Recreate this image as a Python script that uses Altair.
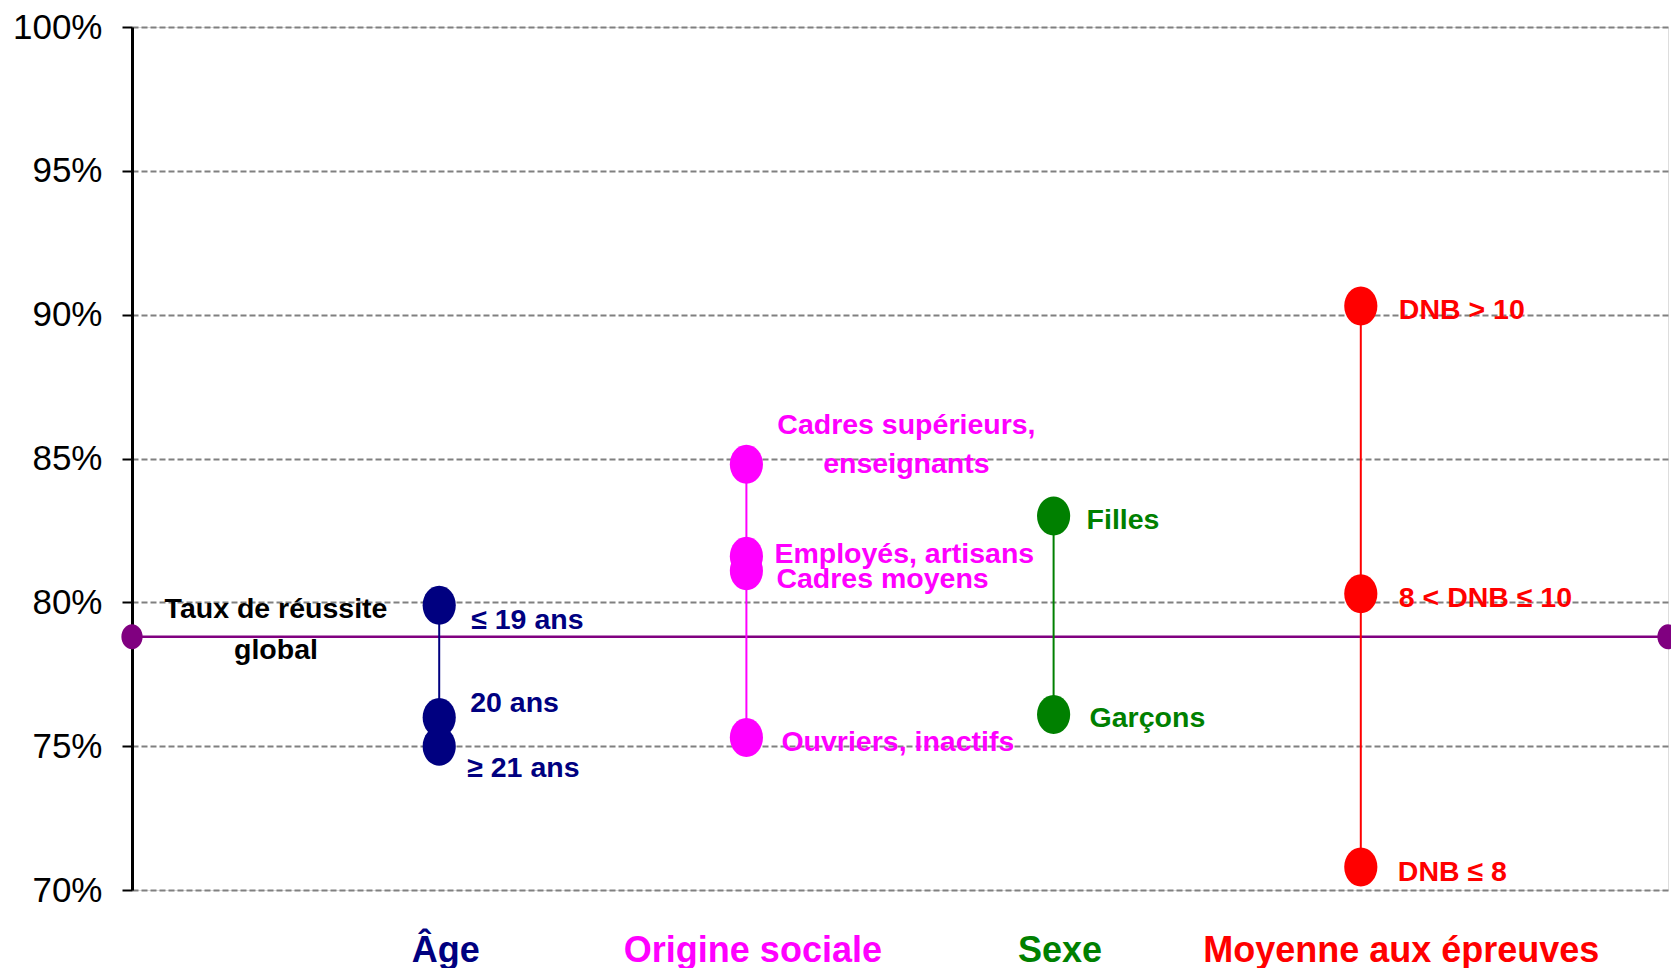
import json
import altair as alt
import pandas as pd

# ---------------- data ----------------
groups = ["Âge", "Origine sociale", "Sexe", "Moyenne aux épreuves"]
group_colors = ["#000080", "#FF00FF", "#008000", "#FF0000"]

age_labels = ["≤ 19 ans", "20 ans", "≥ 21 ans"]
age_values = [79.9, 76.0, 75.0]

origine_labels = ["Cadres supérieurs,\nenseignants", "Employés, artisans", "Cadres moyens", "Ouvriers, inactifs"]
origine_values = [84.8, 81.6, 81.1, 75.3]

sexe_labels = ["Filles", "Garçons"]
sexe_values = [83.0, 76.1]

moyenne_labels = ["DNB > 10", "8 < DNB ≤ 10", "DNB ≤ 8"]
moyenne_values = [90.3, 80.3, 70.8]

global_label = "Taux de réussite\nglobal"
global_rate = 78.8
global_color = "#800080"

y_ticks = [70, 75, 80, 85, 90, 95, 100]

# ---------------- layout (label offsets in pixels: dx, dy, align) ----------------
age_offsets = [(32, 15, "left"), (31, -14, "left"), (28, 22, "left")]
origine_offsets = [(160, -39, "center"), (28, -2, "left"), (30, 8, "left"), (35, 4, "left")]
sexe_offsets = [(33, 4, "left"), (36, 3, "left")]
moyenne_offsets = [(38, 4, "left"), (38, 4, "left"), (37, 5, "left")]
global_offset = (144, -28, "center")

FONT = "'Liberation Sans', Arial, sans-serif"

# ---------------- build tables ----------------
rows = []
all_labels = [age_labels, origine_labels, sexe_labels, moyenne_labels]
all_values = [age_values, origine_values, sexe_values, moyenne_values]
all_offsets = [age_offsets, origine_offsets, sexe_offsets, moyenne_offsets]
for gi, g in enumerate(groups):
    for lab, val, off in zip(all_labels[gi], all_values[gi], all_offsets[gi]):
        rows.append({"group": g, "xpos": gi + 1, "value": val, "label": lab,
                     "dx": off[0], "dy": off[1], "align": off[2]})
df = pd.DataFrame(rows)
df["idx"] = range(len(df))

gdf = pd.DataFrame({"xpos": [0, 5], "value": [global_rate, global_rate]})
gline = pd.DataFrame({"x0": [0], "x1": [5], "value": [global_rate], "label": [global_label]})

color_scale = alt.Scale(domain=groups, range=group_colors)
xscale = alt.Scale(domain=[0, 5], nice=False, zero=False)
yscale = alt.Scale(domain=[70, 100], nice=False, zero=False)

label_expr = json.dumps([""] + groups) + "[datum.value]"
label_color_cond = {
    "condition": [{"test": f"datum.value == {i + 1}", "value": c} for i, c in enumerate(group_colors)],
    "value": "black",
}

x_axis = alt.Axis(
    values=[1, 2, 3, 4], labelExpr=label_expr, title=None, ticks=False, domain=False,
    grid=False, labelFont=FONT, labelFontSize=36, labelFontWeight="bold",
    labelPadding=43, labelColor=label_color_cond, labelLimit=1000,
    labelOffset={"condition": {"test": "datum.value == 4", "value": 40}, "value": 6},
    labelFlush=False,
)
y_axis = alt.Axis(
    values=y_ticks, labelExpr="datum.value + '%'", title=None,
    grid=True, gridColor="#808080", gridDash=[6, 3], gridWidth=2,
    domainColor="black", domainWidth=3, tickColor="black", tickWidth=2, tickSize=10,
    labelFont=FONT, labelFontSize=35, labelColor="black", labelPadding=20,
)

base = alt.Chart(df)

# grid / axes carrier
axes_layer = alt.Chart(gline).mark_rule(opacity=0).encode(
    x=alt.X("x0:Q", scale=xscale, axis=x_axis),
    y=alt.Y("value:Q", scale=yscale, axis=y_axis),
)

global_rule = alt.Chart(gline).mark_rule(color=global_color, strokeWidth=2.5).encode(
    x=alt.X("x0:Q", scale=xscale), x2="x1:Q", y=alt.Y("value:Q", scale=yscale)
)

ellipse = "M-0.85,0A0.85,1 0 1,1 0.85,0A0.85,1 0 1,1 -0.85,0Z"

global_dots = alt.Chart(gdf).mark_point(shape=ellipse, filled=True, size=625, opacity=1,
                                        color=global_color).encode(
    x=alt.X("xpos:Q", scale=xscale), y=alt.Y("value:Q", scale=yscale)
)

group_rules = base.mark_rule(strokeWidth=2).encode(
    x=alt.X("xpos:Q", scale=xscale),
    y=alt.Y("min(value):Q", scale=yscale),
    y2="max(value):Q",
    color=alt.Color("group:N", scale=color_scale, legend=None),
)

dots = base.mark_point(shape=ellipse, filled=True, size=1521, opacity=1).encode(
    x=alt.X("xpos:Q", scale=xscale),
    y=alt.Y("value:Q", scale=yscale),
    color=alt.Color("group:N", scale=color_scale, legend=None),
)

layers = [axes_layer, global_rule, group_rules, dots, global_dots]

for i, r in enumerate(rows):
    t = base.transform_filter(alt.datum.idx == i).mark_text(
        font=FONT, fontSize=28.5, fontWeight="bold", align=r["align"], baseline="middle",
        dx=r["dx"], dy=r["dy"], lineBreak="\n", lineHeight=39,
    ).encode(
        x=alt.X("xpos:Q", scale=xscale),
        y=alt.Y("value:Q", scale=yscale),
        text="label:N",
        color=alt.Color("group:N", scale=color_scale, legend=None),
    )
    layers.append(t)

global_text = alt.Chart(gline).mark_text(
    font=FONT, fontSize=28.5, fontWeight="bold", align=global_offset[2], baseline="middle",
    dx=global_offset[0], dy=global_offset[1], lineBreak="\n", lineHeight=41, color="black",
).encode(
    x=alt.X("x0:Q", scale=xscale), y=alt.Y("value:Q", scale=yscale), text="label:N"
)
layers.append(global_text)

chart = alt.layer(*layers).properties(
    width=1536, height=863,
    autosize=alt.AutoSizeParams(type="none"),
    padding={"left": 124, "top": 19, "right": 3, "bottom": 78},
).configure_view(
    stroke="#888888", strokeWidth=2.5
).configure(background="white")

chart.save("out.html", embed_options={"renderer": "svg", "actions": False})
